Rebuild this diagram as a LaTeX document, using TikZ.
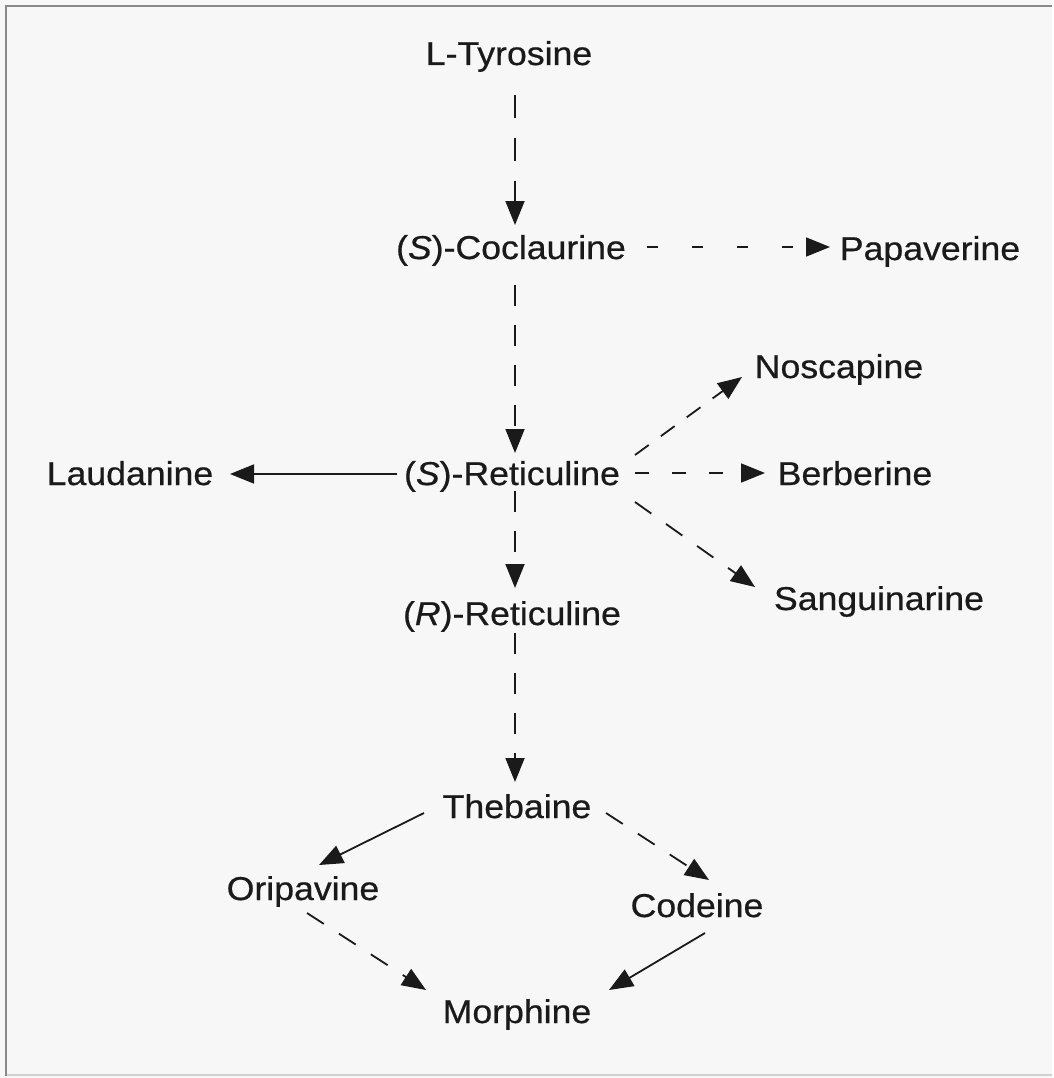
\documentclass[tikz,border=0pt]{standalone}
\usepackage{fontspec}
\setmainfont{Liberation Sans}
\newfontfamily\lblfont[FakeStretch=1.08,FakeBold=0.6]{Liberation Sans}
\usetikzlibrary{arrows.meta,calc}
\definecolor{bgc}{HTML}{F7F7F7}
\definecolor{framec}{HTML}{8A8A8A}
\definecolor{framelt}{HTML}{D0D0D0}
\definecolor{txt}{HTML}{1A1A1A}
\tikzset{
  lbl/.style={anchor=base, inner sep=0pt, text=txt, font=\lblfont\fontsize{33}{38}\selectfont},
  conn/.style={draw=txt, line width=1.8pt, -{Triangle[length=24pt,width=19pt]}},
  solidarr/.style={conn},
  dasharr/.style={conn, dash pattern=on 21pt off 19pt},
}
\begin{document}
\begin{tikzpicture}[x=1pt,y=-1pt]
\fill[bgc] (0,0) rectangle (1052,1078);
\draw[framelt, line width=1.5pt] (6,1075) -- (1052,1075);
\draw[framec, line width=2.5pt] (6,1076) -- (6,6) -- (1052,6);
\useasboundingbox (0,0) rectangle (1052,1078);

\node[lbl] (tyr)   at (509,65)   {L-Tyrosine};
\node[lbl] (cocl)  at (511,259)  {(\textit{S})-Coclaurine};
\node[lbl] (pap)   at (930,260)  {Papaverine};
\node[lbl] (nosc)  at (839,378)  {Noscapine};
\node[lbl] (laud)  at (130,485)  {Laudanine};
\node[lbl] (sret)  at (512,485)  {(\textit{S})-Reticuline};
\node[lbl] (berb)  at (855,485)  {Berberine};
\node[lbl] (sang)  at (879,610)  {Sanguinarine};
\node[lbl] (rret)  at (512,625)  {(\textit{R})-Reticuline};
\node[lbl] (theb)  at (517,818)  {Thebaine};
\node[lbl] (orip)  at (303,900)  {Oripavine};
\node[lbl] (cod)   at (697,917)  {Codeine};
\node[lbl] (morph) at (517,1023) {Morphine};

\draw[dasharr, dash pattern=on 23pt off 20pt] ($(tyr.base)+(6,30)$) -- ($(cocl.base)+(4,-34)$);
\draw[dasharr, dash pattern=on 11pt off 34pt] ($(cocl.base)+(136,-12)$) -- ($(pap.base)+(-100,-13)$);
\draw[dasharr] ($(cocl.base)+(4,26)$) -- ($(sret.base)+(3,-32)$);
\draw[solidarr] ($(sret.base)+(-115,-11)$) -- ($(laud.base)+(100,-11)$);
\draw[dasharr, dash pattern=on 17pt off 15pt] ($(sret.base)+(123,-30)$) -- ($(nosc.base)+(-97,-1)$);
\draw[dasharr, dash pattern=on 14pt off 23pt] ($(sret.base)+(123,-12)$) -- ($(berb.base)+(-90,-12)$);
\draw[dasharr, dash pattern=on 20pt off 18pt] ($(sret.base)+(123,17)$) -- ($(sang.base)+(-124,-23)$);
\draw[dasharr] ($(sret.base)+(3,6)$) -- ($(rret.base)+(3,-37)$);
\draw[dasharr] ($(rret.base)+(3,8)$) -- ($(theb.base)+(-2,-36)$);
\draw[solidarr] ($(theb.base)+(-93,-5)$) -- ($(orip.base)+(16,-35)$);
\draw[dasharr, dash pattern=on 20pt off 18pt] ($(theb.base)+(89,-5)$) -- ($(cod.base)+(12,-37)$);
\draw[dasharr, dash pattern=on 20pt off 18pt] ($(orip.base)+(4,13)$) -- ($(morph.base)+(-91,-33)$);
\draw[solidarr] ($(cod.base)+(8,16)$) -- ($(morph.base)+(92,-33)$);
\end{tikzpicture}
\end{document}
